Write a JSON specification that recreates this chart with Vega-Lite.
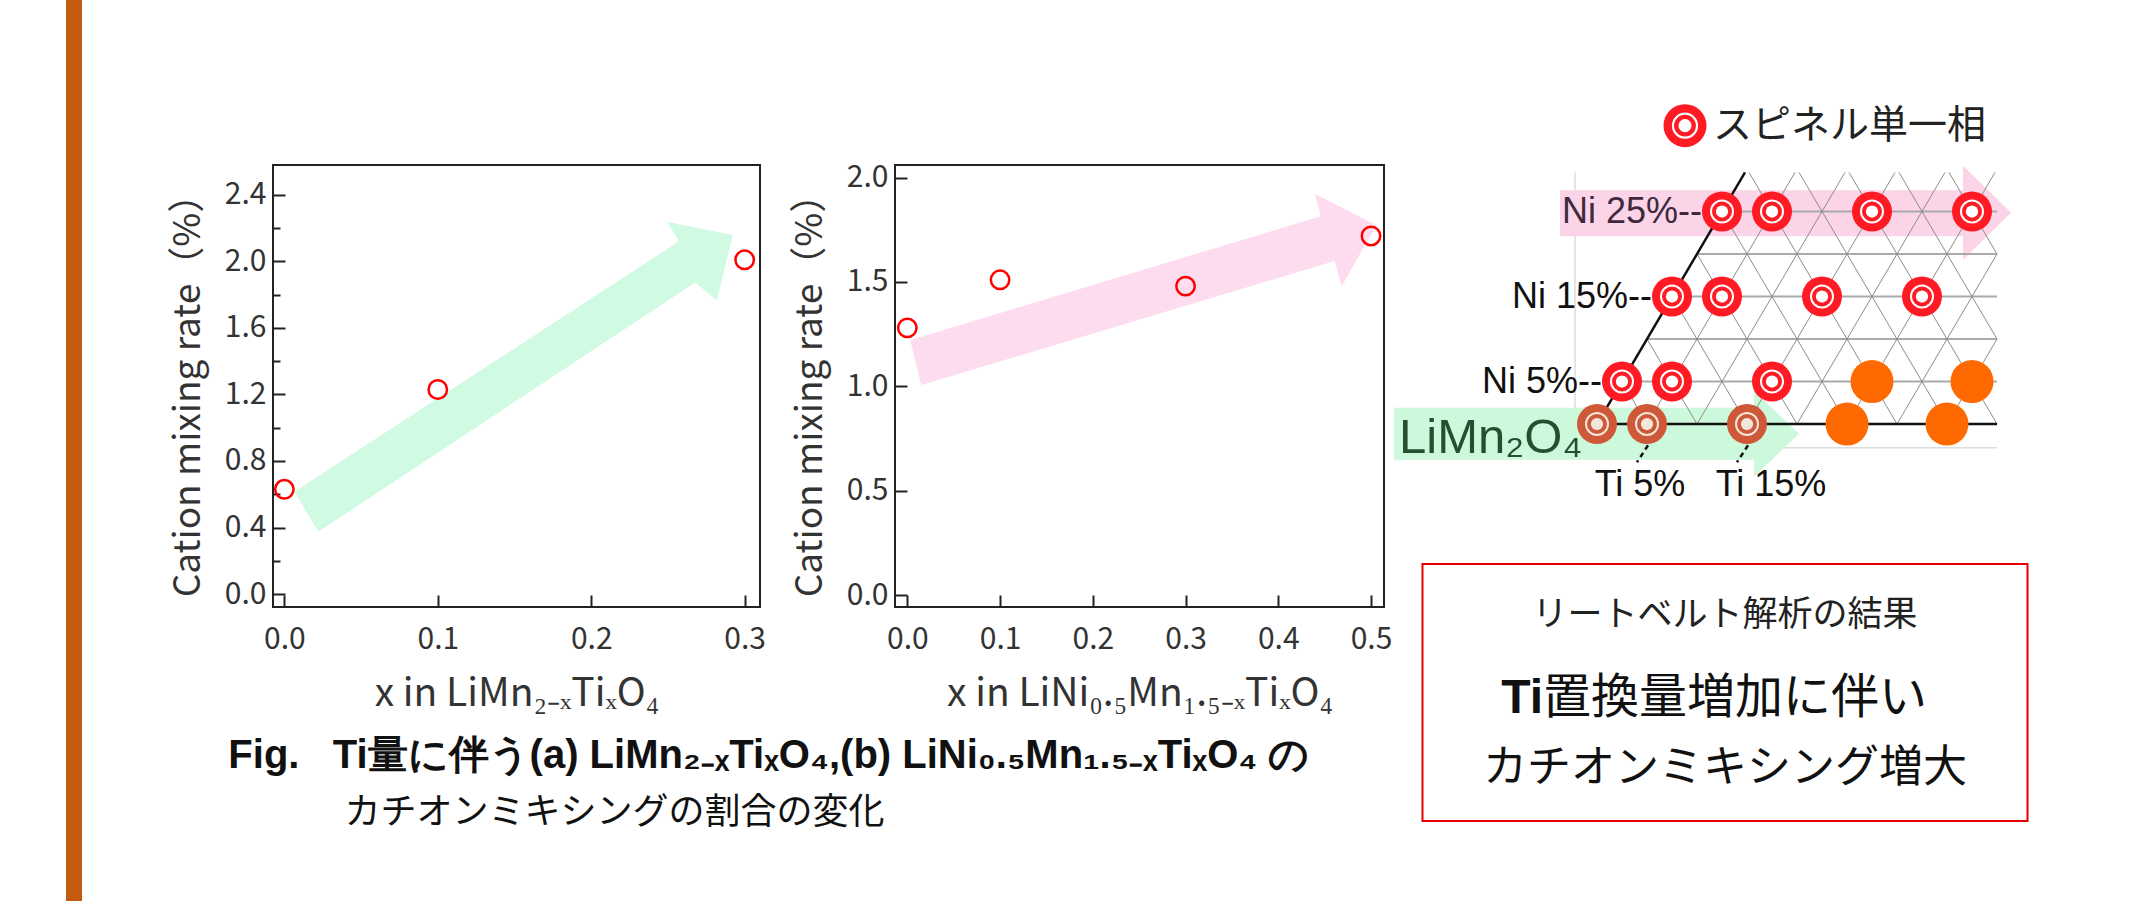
{
  "$schema": "https://vega.github.io/schema/vega-lite/v6.json",
  "background": "white",
  "padding": {"left": 66, "top": 0, "right": 0, "bottom": 0},
  "autosize": {"type": "pad"},
  "config": {
    "view": {"stroke": null},
    "font": "Noto Sans CJK JP",
    "axis": {
      "labelFont": "Noto Sans CJK JP", "labelFontSize": 30, "labelColor": "#333333",
      "titleFont": "Noto Sans CJK JP", "titleFontSize": 37, "titleFontWeight": "normal", "titleColor": "#333333",
      "tickColor": "#222222", "tickWidth": 2, "domain": false, "grid": false, "labelFlush": false, "labelOverlap": false
    }
  },
  "datasets": {
    "arrowA": [
      {"i": 0, "x": 0.0065, "y": 0.615},
      {"i": 1, "x": 0.2572, "y": 2.121},
      {"i": 2, "x": 0.2494, "y": 2.239},
      {"i": 3, "x": 0.2923, "y": 2.159},
      {"i": 4, "x": 0.2819, "y": 1.766},
      {"i": 5, "x": 0.2677, "y": 1.873},
      {"i": 6, "x": 0.0221, "y": 0.374}
    ],
    "ptsA": [
      {"x": 0.0, "rate": 0.63},
      {"x": 0.1, "rate": 1.23},
      {"x": 0.3, "rate": 2.01}
    ],
    "arrowB": [
      {"i": 0, "x": 0.0031, "y": 1.221},
      {"i": 1, "x": 0.4458, "y": 1.815},
      {"i": 2, "x": 0.4394, "y": 1.922},
      {"i": 3, "x": 0.5056, "y": 1.772},
      {"i": 4, "x": 0.4684, "y": 1.479},
      {"i": 5, "x": 0.4607, "y": 1.600},
      {"i": 6, "x": 0.0150, "y": 1.006}
    ],
    "ptsB": [
      {"x": 0.0, "rate": 1.28},
      {"x": 0.1, "rate": 1.51},
      {"x": 0.3, "rate": 1.48},
      {"x": 0.5, "rate": 1.72}
    ],
    "bands": [
      {"band": "pink", "i": 0, "u": -3.7, "Ni": 27.5},
      {"band": "pink", "i": 1, "u": 36.6, "Ni": 27.5},
      {"band": "pink", "i": 2, "u": 36.6, "Ni": 30.4},
      {"band": "pink", "i": 3, "u": 41.4, "Ni": 24.85},
      {"band": "pink", "i": 4, "u": 36.6, "Ni": 19.3},
      {"band": "pink", "i": 5, "u": 36.6, "Ni": 22.1},
      {"band": "pink", "i": 6, "u": -3.7, "Ni": 22.1},
      {"band": "green", "i": 0, "u": -20.3, "Ni": 1.9},
      {"band": "green", "i": 1, "u": 15.7, "Ni": 1.9},
      {"band": "green", "i": 2, "u": 15.7, "Ni": 3.9},
      {"band": "green", "i": 3, "u": 20.2, "Ni": -1.15},
      {"band": "green", "i": 4, "u": 15.7, "Ni": -6.2},
      {"band": "green", "i": 5, "u": 15.7, "Ni": -4.2},
      {"band": "green", "i": 6, "u": -20.3, "Ni": -4.2}
    ],
    "grid": [
      {"kind": "f", "u": -2.2, "Ni": -2.8, "u2": -2.2, "Ni2": 29.6},
      {"kind": "f", "u": -2.2, "Ni": -2.8, "u2": 40, "Ni2": -2.8},
      {"kind": "h", "u": 2.5, "Ni": 5, "u2": 40, "Ni2": 5},
      {"kind": "h", "u": 5, "Ni": 10, "u2": 40, "Ni2": 10},
      {"kind": "h", "u": 7.5, "Ni": 15, "u2": 40, "Ni2": 15},
      {"kind": "h", "u": 10, "Ni": 20, "u2": 40, "Ni2": 20},
      {"kind": "h", "u": 12.5, "Ni": 25, "u2": 40, "Ni2": 25},
      {"kind": "d", "u": 5, "Ni": 0, "u2": 19.8, "Ni2": 29.6},
      {"kind": "d", "u": 10, "Ni": 0, "u2": 24.8, "Ni2": 29.6},
      {"kind": "d", "u": 15, "Ni": 0, "u2": 29.8, "Ni2": 29.6},
      {"kind": "d", "u": 20, "Ni": 0, "u2": 34.8, "Ni2": 29.6},
      {"kind": "d", "u": 25, "Ni": 0, "u2": 39.8, "Ni2": 29.6},
      {"kind": "d", "u": 30, "Ni": 0, "u2": 40, "Ni2": 20},
      {"kind": "d", "u": 35, "Ni": 0, "u2": 40, "Ni2": 10},
      {"kind": "d", "u": 5, "Ni": 0, "u2": 2.5, "Ni2": 5},
      {"kind": "d", "u": 10, "Ni": 0, "u2": 5, "Ni2": 10},
      {"kind": "d", "u": 15, "Ni": 0, "u2": 7.5, "Ni2": 15},
      {"kind": "d", "u": 20, "Ni": 0, "u2": 10, "Ni2": 20},
      {"kind": "d", "u": 25, "Ni": 0, "u2": 12.5, "Ni2": 25},
      {"kind": "d", "u": 30, "Ni": 0, "u2": 15.2, "Ni2": 29.6},
      {"kind": "d", "u": 35, "Ni": 0, "u2": 20.2, "Ni2": 29.6},
      {"kind": "d", "u": 40, "Ni": 0, "u2": 25.2, "Ni2": 29.6},
      {"kind": "d", "u": 40, "Ni": 10, "u2": 30.2, "Ni2": 29.6},
      {"kind": "d", "u": 40, "Ni": 20, "u2": 35.2, "Ni2": 29.6},
      {"kind": "b", "u": 0, "Ni": 0, "u2": 40, "Ni2": 0},
      {"kind": "b", "u": 0, "Ni": 0, "u2": 14.8, "Ni2": 29.6},
      {"kind": "t", "u": 5.1, "Ni": -2.5, "u2": 4.0, "Ni2": -4.5},
      {"kind": "t", "u": 15.1, "Ni": -2.5, "u2": 14.0, "Ni2": -4.5}
    ],
    "comp": [
      {"Ti": 0, "Ni": 25, "u": 12.5, "phase": "spinel"},
      {"Ti": 5, "Ni": 25, "u": 17.5, "phase": "spinel"},
      {"Ti": 15, "Ni": 25, "u": 27.5, "phase": "spinel"},
      {"Ti": 25, "Ni": 25, "u": 37.5, "phase": "spinel"},
      {"Ti": 0, "Ni": 15, "u": 7.5, "phase": "spinel"},
      {"Ti": 5, "Ni": 15, "u": 12.5, "phase": "spinel"},
      {"Ti": 15, "Ni": 15, "u": 22.5, "phase": "spinel"},
      {"Ti": 25, "Ni": 15, "u": 32.5, "phase": "spinel"},
      {"Ti": 0, "Ni": 5, "u": 2.5, "phase": "spinel"},
      {"Ti": 5, "Ni": 5, "u": 7.5, "phase": "spinel"},
      {"Ti": 15, "Ni": 5, "u": 17.5, "phase": "spinel"},
      {"Ti": 25, "Ni": 5, "u": 27.5, "phase": "mixed"},
      {"Ti": 35, "Ni": 5, "u": 37.5, "phase": "mixed"},
      {"Ti": 0, "Ni": 0, "u": 0, "phase": "spinel"},
      {"Ti": 5, "Ni": 0, "u": 5, "phase": "spinel"},
      {"Ti": 15, "Ni": 0, "u": 15, "phase": "spinel"},
      {"Ti": 25, "Ni": 0, "u": 25, "phase": "mixed"},
      {"Ti": 35, "Ni": 0, "u": 35, "phase": "mixed"}
    ],
    "dlabels": [
      {"kind": "ni", "text": "Ni 25%--", "u": 12.5, "Ni": 25},
      {"kind": "ni", "text": "Ni 15%--", "u": 7.5, "Ni": 15},
      {"kind": "ni", "text": "Ni 5%--", "u": 2.5, "Ni": 5},
      {"kind": "ti", "text": "Ti 5%", "u": 4.3, "Ni": -7.2},
      {"kind": "ti", "text": "Ti 15%", "u": 17.4, "Ni": -7.2},
      {"kind": "host", "text": "LiMn₂O₄", "u": -19.8, "Ni": -1.7},
      {"kind": "legend", "text": "スピネル単一相", "u": 11.6, "Ni": 35.1}
    ],
    "legendRing": [
      {"u": 8.8, "Ni": 35.1}
    ],
    "box": [
      {"line": 1, "part": "a", "text": "リートベルト解析の結果"},
      {"line": 2, "part": "ti", "text": "Ti"},
      {"line": 2, "part": "b", "text": "置換量増加に伴い"},
      {"line": 3, "part": "a", "text": "カチオンミキシング増大"}
    ]
  },
  "spacing": 86,
  "hconcat": [
    {
      "width": 16, "height": 901,
      "view": {"stroke": null, "fill": "#c55a11"},
      "data": {"values": [{}]},
      "mark": {"type": "rect", "color": "#c55a11"},
      "encoding": {}
    },
    {
      "spacing": 0,
      "hconcat": [
        {
          "spacing": 0,
          "vconcat": [
            {
              "width": 10, "height": 161,
              "data": {"values": [{}]},
              "mark": {"type": "rect", "opacity": 0},
              "encoding": {}
            },
            {
              "bounds": "flush",
              "spacing": 135,
              "title": {
                "text": "Fig.\u00a0\u00a0\u00a0Ti量に伴う(a) LiMn₂₋ₓTiₓO₄,(b) LiNi₀.₅Mn₁.₅₋ₓTiₓO₄ の",
                "subtitle": "\u200b\u3000\u3000\u3000\u00a0カチオンミキシングの割合の変化",
                "orient": "bottom", "anchor": "start", "frame": "bounds",
                "dx": 60, "offset": 22,
                "font": "Liberation Sans", "fontSize": 40, "fontWeight": "bold", "color": "#111111",
                "subtitleFont": "Noto Sans CJK JP", "subtitleFontSize": 36, "subtitleColor": "#111111", "subtitlePadding": 20
              },
              "hconcat": [
                {
                  "width": 487, "height": 442,
                  "view": {"stroke": "#222222", "strokeWidth": 2},
                  "resolve": {"axis": {"y": "independent"}},
                  "layer": [
                    {
                      "data": {"name": "arrowA"},
                      "mark": {"type": "line", "fill": "#d1fae3", "strokeOpacity": 0, "interpolate": "linear-closed"},
                      "encoding": {
                        "x": {"field": "x", "type": "quantitative", "scale": {"domain": [-0.0074, 0.31], "nice": false, "zero": false},
                          "axis": {"orient": "bottom", "values": [0, 0.1, 0.2, 0.3], "format": ".1f", "offset": -12, "tickSize": 12, "labelPadding": 17, "title": "x in LiMn₂₋ₓTiₓO₄", "titleFontSize": 39, "titlePadding": 20}},
                        "y": {"field": "y", "type": "quantitative", "scale": {"domain": [-0.078, 2.58], "nice": false, "zero": false},
                          "axis": {"orient": "left", "values": [0, 0.4, 0.8, 1.2, 1.6, 2.0, 2.4], "format": ".1f", "offset": -12, "tickSize": 12, "labelPadding": 7, "title": "Cation mixing rate（%）", "titlePadding": 17}},
                        "order": {"field": "i", "type": "quantitative"}
                      }
                    },
                    {
                      "data": {"name": "ptsA"},
                      "mark": {"type": "point", "shape": "circle", "filled": false, "color": "#ff0000", "strokeWidth": 2.5, "size": 340, "opacity": 1},
                      "encoding": {
                        "x": {"field": "x", "type": "quantitative", "scale": {"domain": [-0.0074, 0.31], "nice": false, "zero": false},
                          "axis": {"orient": "bottom", "values": [0, 0.1, 0.2, 0.3], "format": ".1f", "offset": -12, "tickSize": 12, "labelPadding": 17, "title": "x in LiMn₂₋ₓTiₓO₄", "titleFontSize": 39, "titlePadding": 20}},
                        "y": {"field": "rate", "type": "quantitative", "scale": {"domain": [-0.078, 2.58], "nice": false, "zero": false},
                          "axis": {"orient": "left", "values": [0.2, 0.6, 1.0, 1.4, 1.8, 2.2], "offset": -7, "tickSize": 7, "labels": false, "title": null}}
                      }
                    }
                  ]
                },
                {
                  "width": 489, "height": 442,
                  "view": {"stroke": "#222222", "strokeWidth": 2},
                  "layer": [
                    {
                      "data": {"name": "arrowB"},
                      "mark": {"type": "line", "fill": "#fcdcee", "strokeOpacity": 0, "interpolate": "linear-closed"},
                      "encoding": {
                        "x": {"field": "x", "type": "quantitative", "scale": {"domain": [-0.0133, 0.514], "nice": false, "zero": false},
                          "axis": {"orient": "bottom", "values": [0, 0.1, 0.2, 0.3, 0.4, 0.5], "format": ".1f", "offset": -12, "tickSize": 12, "labelPadding": 17, "title": "x in LiNi₀.₅Mn₁.₅₋ₓTiₓO₄", "titleFontSize": 39, "titlePadding": 20}},
                        "y": {"field": "y", "type": "quantitative", "scale": {"domain": [-0.057, 2.06], "nice": false, "zero": false},
                          "axis": {"orient": "left", "values": [0, 0.5, 1.0, 1.5, 2.0], "format": ".1f", "offset": -12, "tickSize": 12, "labelPadding": 7, "title": "Cation mixing rate（%）", "titlePadding": 17}},
                        "order": {"field": "i", "type": "quantitative"}
                      }
                    },
                    {
                      "data": {"name": "ptsB"},
                      "mark": {"type": "point", "shape": "circle", "filled": false, "color": "#ff0000", "strokeWidth": 2.5, "size": 340, "opacity": 1},
                      "encoding": {
                        "x": {"field": "x", "type": "quantitative", "scale": {"domain": [-0.0133, 0.514], "nice": false, "zero": false},
                          "axis": {"orient": "bottom", "values": [0, 0.1, 0.2, 0.3, 0.4, 0.5], "format": ".1f", "offset": -12, "tickSize": 12, "labelPadding": 17, "title": "x in LiNi₀.₅Mn₁.₅₋ₓTiₓO₄", "titleFontSize": 39, "titlePadding": 20}},
                        "y": {"field": "rate", "type": "quantitative", "scale": {"domain": [-0.057, 2.06], "nice": false, "zero": false},
                          "axis": {"orient": "left", "values": [0, 0.5, 1.0, 1.5, 2.0], "format": ".1f", "offset": -12, "tickSize": 12, "labelPadding": 7, "title": "Cation mixing rate（%）", "titlePadding": 17}}
                      }
                    }
                  ]
                }
              ]
            }
          ]
        },
        {
          "spacing": 43,
          "center": true,
          "vconcat": [
            {
              "width": 665, "height": 520,
              "encoding": {
                "x": {"field": "u", "type": "quantitative", "scale": {"domain": [-20.4, 46.1], "nice": false, "zero": false}, "axis": null},
                "y": {"field": "Ni", "type": "quantitative", "scale": {"domain": [-11.29, 49.88], "nice": false, "zero": false}, "axis": null}
              },
              "layer": [
                {
                  "data": {"name": "grid"},
                  "transform": [{"filter": "datum.kind == 'f'"}],
                  "mark": {"type": "rule", "color": "#dddddd", "strokeWidth": 1.5},
                  "encoding": {"x2": {"field": "u2"}, "y2": {"field": "Ni2"}}
                },
                {
                  "data": {"name": "bands"},
                  "transform": [{"filter": "datum.band == 'pink'"}],
                  "mark": {"type": "line", "fill": "#fbd4e8", "strokeOpacity": 0, "interpolate": "linear-closed"},
                  "encoding": {"order": {"field": "i", "type": "quantitative"}}
                },
                {
                  "data": {"name": "bands"},
                  "transform": [{"filter": "datum.band == 'green'"}],
                  "mark": {"type": "line", "fill": "#ccf8dc", "strokeOpacity": 0, "interpolate": "linear-closed"},
                  "encoding": {"order": {"field": "i", "type": "quantitative"}}
                },
                {
                  "data": {"name": "grid"},
                  "transform": [{"filter": "datum.kind == 'h'"}],
                  "mark": {"type": "rule", "color": "#aaaaaa", "strokeWidth": 2},
                  "encoding": {"x2": {"field": "u2"}, "y2": {"field": "Ni2"}}
                },
                {
                  "data": {"name": "grid"},
                  "transform": [{"filter": "datum.kind == 'd'"}],
                  "mark": {"type": "rule", "color": "#8c8c8c", "strokeWidth": 1},
                  "encoding": {"x2": {"field": "u2"}, "y2": {"field": "Ni2"}}
                },
                {
                  "data": {"name": "grid"},
                  "transform": [{"filter": "datum.kind == 'b'"}],
                  "mark": {"type": "rule", "color": "#111111", "strokeWidth": 2.5},
                  "encoding": {"x2": {"field": "u2"}, "y2": {"field": "Ni2"}}
                },
                {
                  "data": {"name": "grid"},
                  "transform": [{"filter": "datum.kind == 't'"}],
                  "mark": {"type": "rule", "color": "#111111", "strokeWidth": 2.5, "strokeDash": [5, 4]},
                  "encoding": {"x2": {"field": "u2"}, "y2": {"field": "Ni2"}}
                },
                {
                  "data": {"name": "dlabels"},
                  "transform": [{"filter": "datum.kind == 'ni'"}],
                  "mark": {"type": "text", "align": "right", "baseline": "middle", "dx": -20, "font": "Liberation Sans", "fontSize": 36},
                  "encoding": {
                    "text": {"field": "text"},
                    "color": {"condition": {"test": "datum.Ni == 25", "value": "#3e2a3c"}, "value": "#111111"}
                  }
                },
                {
                  "data": {"name": "dlabels"},
                  "transform": [{"filter": "datum.kind == 'ti'"}],
                  "mark": {"type": "text", "align": "center", "baseline": "middle", "font": "Liberation Sans", "fontSize": 36, "color": "#111111"},
                  "encoding": {"text": {"field": "text"}}
                },
                {
                  "data": {"name": "dlabels"},
                  "transform": [{"filter": "datum.kind == 'host'"}],
                  "mark": {"type": "text", "align": "left", "baseline": "middle", "font": "Liberation Sans", "fontSize": 49, "color": "#24502f"},
                  "encoding": {"text": {"field": "text"}}
                },
                {
                  "data": {"name": "dlabels"},
                  "transform": [{"filter": "datum.kind == 'legend'"}],
                  "mark": {"type": "text", "align": "left", "baseline": "middle", "font": "Noto Sans CJK JP", "fontSize": 39, "color": "#222222"},
                  "encoding": {"text": {"field": "text"}}
                },
                {
                  "data": {"name": "comp"},
                  "transform": [{"filter": "datum.phase == 'spinel'"}],
                  "mark": {"type": "point", "shape": "circle", "filled": true, "size": 1600, "opacity": 1},
                  "encoding": {"color": {"condition": {"test": "datum.Ni == 0", "value": "#cf5838"}, "value": "#ff1a24"}}
                },
                {
                  "data": {"name": "comp"},
                  "transform": [{"filter": "datum.phase == 'spinel'"}],
                  "mark": {"type": "point", "shape": "circle", "filled": false, "size": 484, "strokeWidth": 2, "opacity": 1},
                  "encoding": {"color": {"condition": {"test": "datum.Ni == 0", "value": "#f3e6da"}, "value": "#ffffff"}}
                },
                {
                  "data": {"name": "comp"},
                  "transform": [{"filter": "datum.phase == 'spinel'"}],
                  "mark": {"type": "point", "shape": "circle", "filled": true, "size": 150, "opacity": 1},
                  "encoding": {"color": {"condition": {"test": "datum.Ni == 0", "value": "#f3e6da"}, "value": "#ffffff"}}
                },
                {
                  "data": {"name": "comp"},
                  "transform": [{"filter": "datum.phase == 'mixed'"}],
                  "mark": {"type": "point", "shape": "circle", "filled": true, "size": 1849, "opacity": 1, "color": "#ff6a00"}
                },
                {
                  "data": {"name": "legendRing"},
                  "mark": {"type": "point", "shape": "circle", "filled": true, "size": 1849, "opacity": 1, "color": "#ff1a24"}
                },
                {
                  "data": {"name": "legendRing"},
                  "mark": {"type": "point", "shape": "circle", "filled": false, "size": 576, "strokeWidth": 2.2, "opacity": 1, "color": "#ffffff"}
                },
                {
                  "data": {"name": "legendRing"},
                  "mark": {"type": "point", "shape": "circle", "filled": true, "size": 170, "opacity": 1, "color": "#ffffff"}
                }
              ]
            },
            {
              "width": 605, "height": 257,
              "view": {"stroke": "#e60000", "strokeWidth": 2},
              "data": {"name": "box"},
              "encoding": {
                "y": {"field": "line", "type": "ordinal", "scale": {"type": "point", "padding": 0.836, "align": 0.556}, "axis": null},
                "text": {"field": "text"}
              },
              "layer": [
                {
                  "transform": [{"filter": "datum.line == 1"}],
                  "mark": {"type": "text", "font": "Noto Sans CJK JP", "fontSize": 35, "color": "#222222", "dy": -14}
                },
                {
                  "transform": [{"filter": "datum.line == 3"}],
                  "mark": {"type": "text", "font": "Noto Sans CJK JP", "fontSize": 44, "color": "#111111"}
                },
                {
                  "transform": [{"filter": "datum.part == 'ti'"}],
                  "mark": {"type": "text", "align": "right", "dx": -182, "font": "Liberation Sans", "fontWeight": "bold", "fontSize": 48, "color": "#111111"}
                },
                {
                  "transform": [{"filter": "datum.part == 'b'"}],
                  "mark": {"type": "text", "align": "left", "dx": -182, "font": "Noto Sans CJK JP", "fontSize": 48, "color": "#111111"}
                }
              ]
            }
          ]
        }
      ]
    }
  ]
}
